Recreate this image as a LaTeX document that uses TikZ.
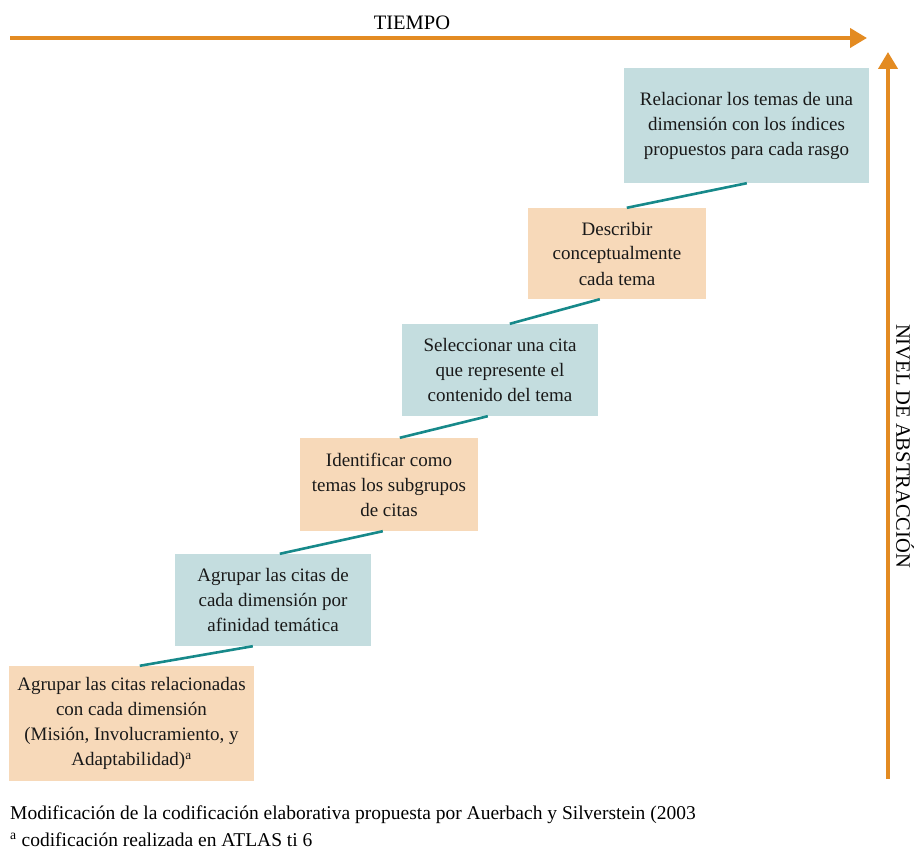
\documentclass[tikz,border=0pt]{standalone}
\usepackage{fontspec}
\setmainfont{Liberation Serif}
\usetikzlibrary{arrows.meta}
\definecolor{peachc}{HTML}{F7D9B9}
\definecolor{tealbox}{HTML}{C4DDDF}
\definecolor{tealline}{HTML}{17898A}
\definecolor{axisor}{HTML}{E38B22}
\begin{document}
\begin{tikzpicture}[x=1pt,y=-1pt,
  stepbox/.style={inner sep=0pt, align=center, font=\fontsize{19}{25}\selectfont, text=black!90},
  warm/.style={stepbox, fill=peachc},
  cool/.style={stepbox, fill=tealbox},
  seg/.style={draw=tealline, line width=2.6pt},
  axis/.style={draw=axisor, line width=4pt, -{Triangle[length=17pt,width=19pt]}},
  axlabel/.style={font=\fontsize{20.5}{22}\selectfont, inner sep=0pt},
  caption/.style={font=\fontsize{19.5}{21}\selectfont, anchor=west, inner sep=0pt}]
\useasboundingbox (0,0) rectangle (917,850);
% boxes
\node[warm, minimum width=245pt, minimum height=115pt] (b1) at (131.5,723.5)
  {Agrupar las citas relacionadas\\con cada dimensión\\(Misión, Involucramiento, y\\Adaptabilidad)\textsuperscript{a}};
\node[cool, minimum width=196pt, minimum height=92pt] (b2) at (273,600)
  {Agrupar las citas de\\cada dimensión por\\afinidad temática};
\node[warm, minimum width=178pt, minimum height=93pt] (b3) at (389,484.5)
  {Identificar como\\temas los subgrupos\\de citas};
\node[cool, minimum width=196pt, minimum height=92pt] (b4) at (500,370)
  {Seleccionar una cita\\que represente el\\contenido del tema};
\node[warm, minimum width=178pt, minimum height=91pt] (b5) at (617,253.5)
  {Describir\\conceptualmente\\cada tema};
\node[cool, minimum width=245pt, minimum height=115pt] (b6) at (746.5,125.5)
  {Relacionar los temas de una\\dimensión con los índices\\propuestos para cada rasgo};
% connectors
\draw[seg] ([xshift=131pt]b1.north west) -- ([xshift=78pt]b2.south west);
\draw[seg] ([xshift=105pt]b2.north west) -- ([xshift=83pt]b3.south west);
\draw[seg] ([xshift=100pt]b3.north west) -- ([xshift=86pt]b4.south west);
\draw[seg] ([xshift=108pt]b4.north west) -- ([xshift=72pt]b5.south west);
\draw[seg] ([xshift=99pt]b5.north west) -- ([xshift=123pt]b6.south west);
% axes
\coordinate (h0) at (10,38);
\coordinate (h1) at (867,38);
\draw[axis] (h0) -- (h1);
\node[axlabel] (tlab) at (412,23) {TIEMPO};
\coordinate (v0) at (888,779);
\coordinate (v1) at (888,52);
\draw[axis] (v0) -- (v1);
\node[axlabel, rotate=-90] (vlab) at (905,446) {NIVEL DE ABSTRACCIÓN};
% caption
\node[caption] (cap1) at (10,815) {Modificación de la codificación elaborativa propuesta por Auerbach y Silverstein (2003};
\node[caption] (cap2) at (10,840) {\textsuperscript{a} codificación realizada en ATLAS ti 6};
\end{tikzpicture}
\end{document}
